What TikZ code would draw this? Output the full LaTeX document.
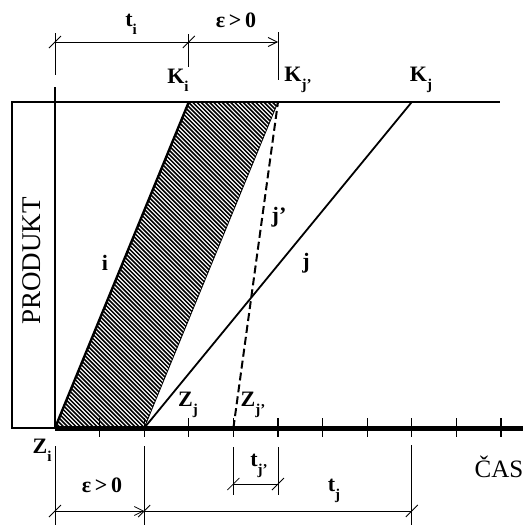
\documentclass[tikz,border=0pt]{standalone}
\usepackage{fontspec}
\setmainfont{Liberation Serif}
\usetikzlibrary{arrows.meta,calc}
\newcommand\mylab[2]{#1\raisebox{-.35em}{\fontsize{15}{15}\selectfont #2}}
\begin{document}
\begin{tikzpicture}[x=1pt,y=-1pt,
  lab/.style={font=\fontsize{22}{22}\selectfont\bfseries, inner sep=0pt},
  dim/.style={line width=0.8pt},
  frameline/.style={line width=1.3pt},
  slash/.style={line width=0.8pt},
  arr/.style={-{Straight Barb[length=9pt,width=9pt,line width=0.8pt]}}]
\useasboundingbox (0,0) rectangle (530,525);
% key points
\coordinate (Zi) at (55,428);
\coordinate (Zj) at (144.2,428);
\coordinate (Zjp) at (233.4,428);
\coordinate (Ki) at (188.8,102);
\coordinate (Kjp) at (278,102);
\coordinate (Kj) at (411.8,102);
% hatching
\begin{scope}
  \clip (Zi) -- (Zj) -- (Kjp) -- (Ki) -- cycle;
  \foreach \c in {-380,-375.8,...,182} \draw[line width=1.5pt] (\c+90,90) -- (\c+440,440);
\end{scope}
% frame
\draw[frameline] (55,428) -- (12,428) -- (12,102) -- (500,102);
% axes
\draw[line width=2.6pt] (55,87) -- (Zi);
\draw[line width=5pt] (Zi) -- (523,428);
\foreach \k in {1,...,10} \draw[line width=1.3pt] (55+44.6*\k,418) -- ++(0,19);
% lines
\draw[line width=2.4pt] (Zi) -- (Ki);
\draw[line width=0.8pt] (Zj) -- (Kjp);
\draw[line width=1.8pt] (Zj) -- (Kj);
\draw[line width=2pt, dash pattern=on 8pt off 4pt] (Zjp) -- (Kjp);
% top dimension
\coordinate (T0) at (55,42);
\coordinate (T1) at (188.8,42);
\coordinate (T2) at (278,42);
\draw[dim] (55,33) -- (55,75);
\draw[dim] (188.8,34) -- (188.8,67);
\draw[dim] (278,32) -- (278,80);
\draw[dim] (T0) -- (T1);
\draw[dim,arr] (T1) -- (T2);
\draw[slash] ($(T0)+(-6,6)$) -- ($(T0)+(6,-6)$);
\draw[slash] ($(T1)+(-6,6)$) -- ($(T1)+(6,-6)$);
% bottom dimension
\coordinate (B0) at (55,511);
\coordinate (B1) at (144.2,511);
\coordinate (B2) at (411.8,511);
\draw[dim] (55,446) -- (55,525);
\draw[dim] (144.2,446) -- (144.2,525);
\draw[dim] (411.8,445) -- (411.8,525);
\draw[dim,arr] (B0) -- (B1);
\draw[dim] (B1) -- (B2);
\draw[slash] ($(B0)+(-6,6)$) -- ($(B0)+(6,-6)$);
\draw[slash] ($(B1)+(-6,6)$) -- ($(B1)+(6,-6)$);
\draw[slash] ($(B2)+(-6,6)$) -- ($(B2)+(6,-6)$);
% t_j' dimension
\coordinate (C0) at (233.4,484);
\coordinate (C1) at (278,484);
\draw[dim] (233.4,447) -- (233.4,495);
\draw[dim] (278,447) -- (278,495);
\draw[dim] (C0) -- (C1);
\draw[slash] ($(C0)+(-6,6)$) -- ($(C0)+(6,-6)$);
\draw[slash] ($(C1)+(-6,6)$) -- ($(C1)+(6,-6)$);
% labels
\node[lab] (lti) at (131,24) {\mylab{t}{i}};
\node[lab] (leps1) at (236,20) {ε\,>\,0};
\node[lab] (lKi) at (178,80) {\mylab{K}{i}};
\node[lab] (lKjp) at (298,80) {\mylab{K}{j’}};
\node[lab] (lKj) at (421,80) {\mylab{K}{j}};
\node[lab] (li) at (105,263) {i};
\node[lab] (ljp) at (279,217) {j’};
\node[lab] (lj) at (306,263) {j};
\node[lab] (lZi) at (42,450) {\mylab{Z}{i}};
\node[lab] (lZj) at (188,405) {\mylab{Z}{j}};
\node[lab] (lZjp) at (253,405) {\mylab{Z}{j’}};
\node[lab] (leps2) at (102,485) {ε\,>\,0};
\node[lab] (ltjp) at (259,466) {\mylab{t}{j’}};
\node[lab] (ltj) at (334,491) {\mylab{t}{j}};
\node[inner sep=0pt, font=\fontsize{25}{25}\selectfont] (cas) at (499,467) {ČAS};
\node[inner sep=0pt, rotate=90, font=\fontsize{27}{27}\selectfont] (prod) at (32,261) {PRODUKT};
\end{tikzpicture}
\end{document}
